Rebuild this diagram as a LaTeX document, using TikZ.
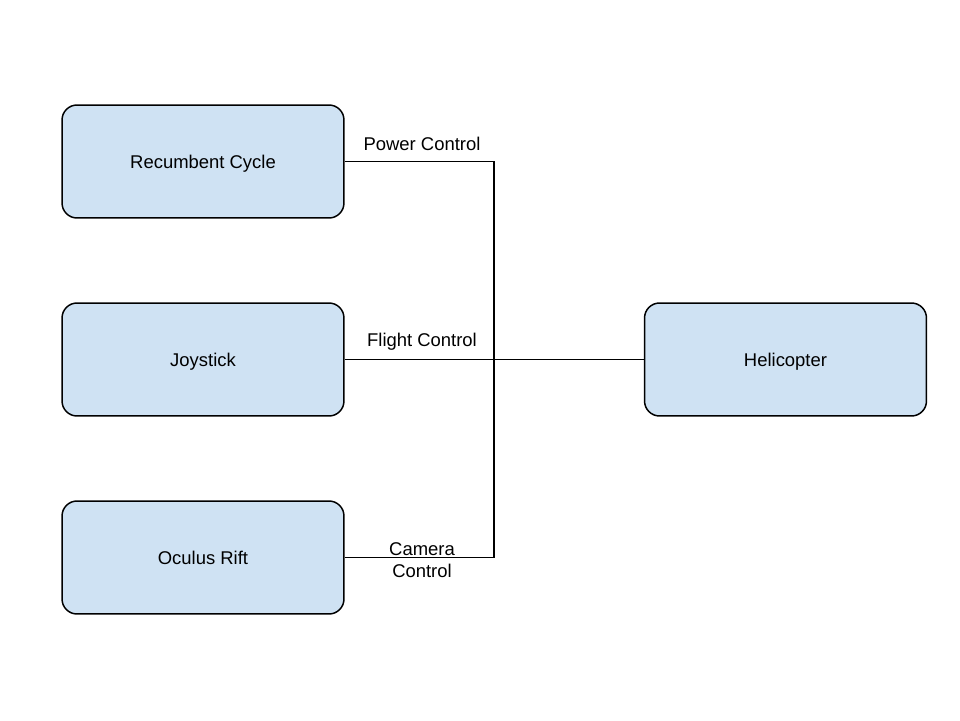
\documentclass[tikz,border=0pt]{standalone}
\usepackage{fontspec}
\setmainfont{Liberation Sans}
\definecolor{boxblue}{HTML}{CFE2F3}
\begin{document}
\begin{tikzpicture}[x=0.02cm, y=-0.02cm,
	block/.style={draw, rounded corners=0.3cm, fill=boxblue, line width=0.85pt,
		minimum width=5.64cm, minimum height=2.26cm, text depth=-0.04cm,
		font=\fontsize{10.5}{12.5}\selectfont},
	wire/.style={line width=0.7pt},
	tag/.style={font=\fontsize{10.5}{12.5}\selectfont, align=center, inner sep=0pt}]

	\def \LeftX {203}
	\def \HubX {494}

	\useasboundingbox (0,0) rectangle (960,720);

	\node (RC) at (\LeftX,161.5) [block]{Recumbent Cycle};
	\node (JS) at (\LeftX,359.5) [block]{Joystick};
	\node (OR) at (\LeftX,557.5) [block]{Oculus Rift};
	\node (HC) at (785.5,359.5) [block]{Helicopter};
	\coordinate (Hub) at (\HubX,359.5);

	\draw[wire] (RC.east) -| (Hub);
	\draw[wire] (OR.east) -| (Hub);
	\draw[wire] (JS.east) -- (Hub);
	\draw[line width=0.9pt] (Hub) -- (HC.west);

	\node (PwrTag) at (422,144) [tag]{Power Control};
	\node (FltTag) at (422,342) [tag]{Flight Control};
	\node (CamTag) at (422,560) [tag]{Camera\\Control};

\end{tikzpicture}
\end{document}
